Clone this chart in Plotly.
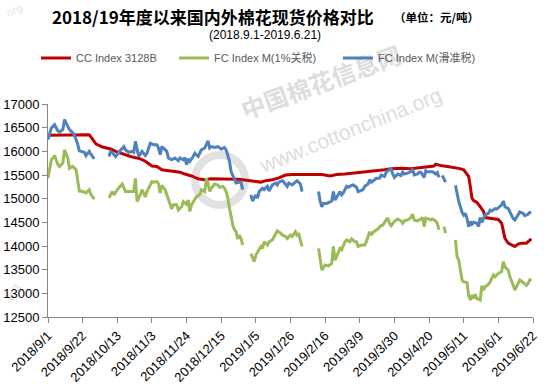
import pandas as pd
import plotly.graph_objects as go

# ---------------- data ----------------
START = pd.Timestamp("2018-09-01")   # day 0
END = pd.Timestamp("2019-06-22")

tick_labels = ["2018/9/1", "2018/9/22", "2018/10/13", "2018/11/3", "2018/11/24",
               "2018/12/15", "2019/1/5", "2019/1/26", "2019/2/16", "2019/3/9",
               "2019/3/30", "2019/4/20", "2019/5/11", "2019/6/1", "2019/6/22"]
y_ticks = [12500, 13000, 13500, 14000, 14500, 15000, 15500, 16000, 16500, 17000]

# CC Index 3128B  (days since 2018-09-01, yuan/ton)
cc_days = [0, 10, 25, 27, 29, 33, 38, 41, 44, 50, 56, 59, 63, 66, 69, 73, 77, 80, 83, 87,
           91, 95, 99, 105, 111, 115, 118, 122, 126, 129, 132, 136, 140, 144, 148, 154, 160,
           166, 171, 175, 180, 186, 192, 198, 204, 208, 214, 220, 226, 232, 234, 235, 238,
           242, 246, 249, 252, 253, 255, 256, 257, 258, 260, 262, 264, 265, 267, 270, 273,
           275, 276, 277, 279, 281, 283, 285, 287, 290, 291, 292, 293]
cc_vals = [16340, 16350, 16350, 16260, 16160, 16090, 16050, 16000, 15960, 15890, 15840, 15790,
           15690, 15680, 15610, 15590, 15570, 15560, 15520, 15480, 15420, 15400, 15420, 15420,
           15410, 15410, 15400, 15380, 15350, 15350, 15380, 15400, 15440, 15500, 15510, 15510,
           15510, 15510, 15480, 15510, 15520, 15540, 15560, 15590, 15610, 15630, 15640, 15630,
           15660, 15680, 15690, 15730, 15700, 15680, 15660, 15640, 15610, 15560, 15470, 15260,
           15010, 14960, 14920, 14830, 14730, 14600, 14590, 14580, 14560, 14480, 14340, 14160,
           14060, 14020, 13990, 14040, 14060, 14060, 14090, 14120, 14150]

# FC Index M (1% tariff)
fc1_days = [0, 2, 4, 6, 7, 9, 10, 12, 13, 15,
            17, 18, 19, 21, 23, 25, 26, 28, 33, 37,
            39, 40, 42, 45, 47, 50, 52, 53, 54, 56,
            57, 59, 60, 63, 64, 66, 67, 68, 69, 71,
            72, 74, 75, 76, 78, 79, 81, 82, 84, 85,
            86, 87, 89, 90, 92, 93, 95, 96, 97, 98,
            99, 101, 103, 104, 106, 107, 108, 109, 110, 111,
            112, 113, 114, 115, 116, 117, 118, 120, 123, 125,
            126, 127, 129, 130, 131, 133, 134, 136, 137, 139,
            141, 142, 144, 145, 147, 148, 150, 151, 152, 154,
            158, 164, 165, 166, 168, 170, 172, 173, 174, 176,
            177, 178, 180, 181, 183, 184, 186, 187, 188, 190,
            192, 193, 194, 195, 196, 197, 199, 200, 202, 203,
            205, 206, 207, 208, 210, 212, 214, 215, 216, 218,
            220, 221, 222, 224, 226, 227, 228, 229, 231, 232,
            233, 235, 236, 237, 238, 240, 241, 244, 247, 248,
            249, 251, 252, 254, 255, 256, 257, 258, 259, 260,
            262, 263, 264, 265, 267, 268, 270, 271, 273, 275,
            276, 277, 279, 280, 282, 283, 285, 286, 288, 290,
            291, 292, 293]
fc1_vals = [15430, 15820, 15910, 15720, 15680, 15750, 16030, 15860, 15640, 15680,
            15610, 15360, 15160, 15150, 15120, 15190, 15090, 14990, None, 15020,
            15150, 15080, 15190, 15310, 15150, 15150, 15150, 15430, 14940, 15090,
            15190, 15040, 15150, 15360, 15350, 15360, 15310, 15120, 15280, 15190,
            15080, 14900, 14780, 14870, 14870, 14760, 14830, 14940, 14880, 14970,
            14730, 14870, 14970, 15040, 15090, 15190, 15150, 15430, 15330, 15150,
            15220, 15310, 15290, 15240, 15260, 15220, 15150, 15010, 14800, 14590,
            14440, 14350, 14300, 14150, 14230, 14160, 14020, None, 13840, 13670,
            13810, 13880, 13990, 13950, 14090, 14020, 14090, 14130, 14200, 14320,
            14270, 14230, 14200, 14160, 14230, 14200, 14300, 14230, 14250, 13990,
            None, 13950, 13740, 13490, 13600, 13580, 13630, 13990, 13700, 13880,
            13950, 13920, 14090, 14130, 14090, 14150, 14090, 14090, 13990, 14020,
            14020, 14090, 14200, 14300, 14230, 14290, 14340, 14360, 14440, 14440,
            14550, 14590, 14480, 14430, 14520, 14570, 14530, 14480, 14530, 14550,
            14600, 14670, 14550, 14530, 14570, 14600, 14410, 14590, 14570, 14550,
            14570, 14530, 14480, 14340, None, 14410, 14270, None, 14130, 13770,
            13700, 13280, 13240, 13230, 12960, 12860, 12960, 12890, 12980, 12890,
            12860, 13160, 13070, 13140, 13190, 13240, 13390, 13350, 13420, 13460,
            13670, 13560, 13490, 13350, 13170, 13070, 13210, 13280, 13230, 13170,
            13210, 13280, 13300]

# FC Index M (sliding-scale tariff)
fcs_days = [0, 2, 4, 6, 7, 9, 10, 12, 13, 15,
            16, 18, 19, 20, 22, 23, 25, 26, 28, 33,
            37, 38, 40, 41, 43, 46, 47, 49, 51, 52,
            53, 55, 57, 59, 60, 62, 64, 66, 67, 68,
            69, 70, 72, 73, 75, 77, 79, 80, 82, 83,
            84, 85, 86, 88, 89, 91, 93, 95, 97, 98,
            99, 101, 103, 105, 107, 108, 110, 111, 113, 114,
            116, 117, 118, 120, 123, 124, 126, 127, 128, 130,
            131, 133, 134, 136, 138, 139, 140, 142, 143, 145,
            146, 148, 150, 151, 153, 154, 158, 164, 165, 166,
            167, 169, 171, 172, 173, 174, 176, 177, 178, 179,
            181, 182, 184, 185, 187, 188, 189, 191, 192, 194,
            195, 196, 198, 199, 201, 202, 204, 205, 207, 208,
            209, 210, 212, 214, 215, 216, 218, 220, 221, 222,
            224, 225, 226, 228, 229, 230, 232, 233, 234, 235,
            236, 237, 238, 239, 241, 244, 247, 248, 249, 250,
            251, 252, 253, 254, 255, 256, 257, 258, 260, 261,
            262, 263, 264, 265, 267, 268, 269, 271, 272, 273,
            275, 276, 277, 279, 280, 282, 283, 285, 286, 288,
            289, 291, 292, 293]
fcs_vals = [16250, 16490, 16560, 16430, 16410, 16460, 16670, 16550, 16460, 16390,
            16350, 16150, 16010, 16000, 15980, 15910, 16000, 15940, 15840, None,
            15890, 16010, 15930, 15890, 15980, 16100, 16030, 15980, 16000, 15980,
            16210, 15890, 16000, 15910, 15960, 16170, 16140, 16140, 16070, 15930,
            16100, 16070, 16000, 15860, 15820, 15860, 15800, 15860, 15820, 15870,
            15720, 15840, 15790, 15890, 15960, 15890, 16030, 16070, 16220, 16070,
            16100, 16080, 16100, 16050, 16080, 16030, 15790, 15570, 15400, 15330,
            15350, 15350, 15190, None, 15080, 14950, 15080, 15010, 15150, 15220,
            15190, 15260, 15160, 15290, 15330, 15290, 15350, 15380, 15350, 15260,
            15330, 15290, 15350, 15380, 15310, 15150, None, 15150, 14940, 14830,
            14900, 14900, 14940, 14950, 15150, 14970, 15090, 15150, 15080, 15120,
            15260, 15240, 15280, 15290, 15240, 15150, 15160, 15190, 15260, 15310,
            15400, 15350, 15400, 15430, 15430, 15500, 15470, 15560, 15610, 15630,
            15520, 15450, 15520, 15490, 15560, 15520, 15540, 15570, 15630, 15500,
            15520, 15560, 15560, 15450, 15590, 15570, 15570, 15570, 15550, 15520,
            15550, 15450, None, 15490, 15350, None, 15280, 15080, 14940, 14830,
            14710, 14650, 14690, 14580, 14410, 14520, 14460, 14500, 14480, 14410,
            14600, 14500, 14570, 14660, 14690, 14760, 14740, 14790, 14780, 14810,
            14870, 14950, 14830, 14790, 14710, 14580, 14550, 14650, 14720, 14690,
            14640, 14670, 14710, 14710]

series_names = ["CC Index 3128B", "FC Index M(1%关税)", "FC Index M(滑准税)"]
series_colors = ["#C00000", "#9BBB59", "#4F81BD"]

assert len(cc_days) == len(cc_vals)
assert len(fc1_days) == len(fc1_vals)
assert len(fcs_days) == len(fcs_vals)


def to_dates(days):
    return [START + pd.Timedelta(days=d) for d in days]


tick_vals = [pd.to_datetime(t, format="%Y/%m/%d") for t in tick_labels]

# ---------------- figure ----------------
W, H = 550, 384
ML, MR, MT, MB = 48, 17, 104, 67
fig = go.Figure()
legends = ["legend", "legend2", "legend3"]
for name, d, v, c, lg in zip(series_names, [cc_days, fc1_days, fcs_days],
                             [cc_vals, fc1_vals, fcs_vals], series_colors, legends):
    fig.add_trace(go.Scatter(x=to_dates(d), y=v, mode="lines", name=name,
                             line=dict(color=c, width=3), connectgaps=False,
                             legend=lg, hoverinfo="skip"))

leg_font = dict(family="Liberation Sans, Noto Sans CJK SC", size=11, color="#595959")
leg_common = dict(orientation="h", xref="container", yref="container", y=1 - 58 / H,
                  xanchor="left", yanchor="middle", font=leg_font, itemwidth=30,
                  bgcolor="rgba(0,0,0,0)", borderwidth=0)
fig.update_layout(
    width=W, height=H,
    margin=dict(l=ML, r=MR, t=MT, b=MB, autoexpand=False),
    paper_bgcolor="white", plot_bgcolor="white",
    showlegend=True,
    legend=dict(x=36 / W, **leg_common),
    legend2=dict(x=174 / W, **leg_common),
    legend3=dict(x=338 / W, **leg_common),
)

axis_col = "#868686"
fig.update_xaxes(type="date", range=[START, END], tickmode="array", tickvals=tick_vals,
                 ticktext=tick_labels, tickangle=-45, ticks="outside", ticklen=5,
                 tickcolor=axis_col, showline=True, linecolor=axis_col, linewidth=1,
                 showgrid=False, zeroline=False, automargin=False,
                 tickfont=dict(family="Liberation Sans", size=13, color="#000000"))
fig.update_yaxes(range=[12500, 17000], tickmode="array", tickvals=y_ticks, tickformat="d",
                 ticks="outside", ticklen=5, tickcolor=axis_col, showline=True,
                 linecolor=axis_col, linewidth=1, showgrid=False, zeroline=False,
                 automargin=False,
                 tickfont=dict(family="Liberation Sans", size=13, color="#000000"))


# ---------------- titles ----------------
def px_to_paper(px, py):
    return (px - ML) / (W - ML - MR), 1 - (py - MT) / (H - MT - MB)


def add_text(px, py, text, font):
    x, y = px_to_paper(px, py)
    fig.add_annotation(xref="paper", yref="paper", x=x, y=y, xanchor="center",
                       yanchor="middle", showarrow=False, text=text, font=font)


add_text(213, 16, "<b>2018/19年度以来国内外棉花现货价格对比</b>",
         dict(family="Noto Sans CJK SC", size=17, color="#000000"))
add_text(436, 17, "<b>（单位：元/吨）</b>",
         dict(family="Noto Sans CJK SC", size=11.5, color="#000000"))
add_text(265, 35, "(2018.9.1-2019.6.21)",
         dict(family="Liberation Sans", size=12, color="#000000"))


# ---------------- watermark (below the lines) ----------------
def add_watermark(px, py, text, angle, font):
    x, y = px_to_paper(px, py)
    fig.add_shape(type="rect", xref="paper", yref="paper", x0=x - 0.1, x1=x + 0.1,
                  y0=y - 0.05, y1=y + 0.05, line=dict(width=0),
                  fillcolor="rgba(0,0,0,0)", layer="below",
                  label=dict(text=text, textangle=angle, textposition="middle center",
                             font=font))


wm_col = "#dddddd"
add_watermark(322, 85, "<b>中国棉花信息网</b>", -20,
              dict(family="Noto Sans CJK SC", size=24, color=wm_col))
add_watermark(350, 128, "www.cottonchina.org", -22,
              dict(family="Liberation Sans", size=21, color=wm_col))
add_watermark(12, 292, "org", -62, dict(family="Liberation Sans", size=12, color="#e0e0e0"))
add_watermark(14, 9, "org", -20, dict(family="Liberation Sans", size=11, color="#e6e6e6"))
lx0, ly0 = px_to_paper(195, 155)
lx1, ly1 = px_to_paper(245, 205)
fig.add_shape(type="circle", xref="paper", yref="paper", x0=lx0, x1=lx1, y0=ly1, y1=ly0,
              line=dict(width=8, color="#e2e2e2"), fillcolor="rgba(0,0,0,0)", layer="below")

fig.write_html("out.html", config={"displayModeBar": False},
               post_script="document.body.style.margin='0px';")
